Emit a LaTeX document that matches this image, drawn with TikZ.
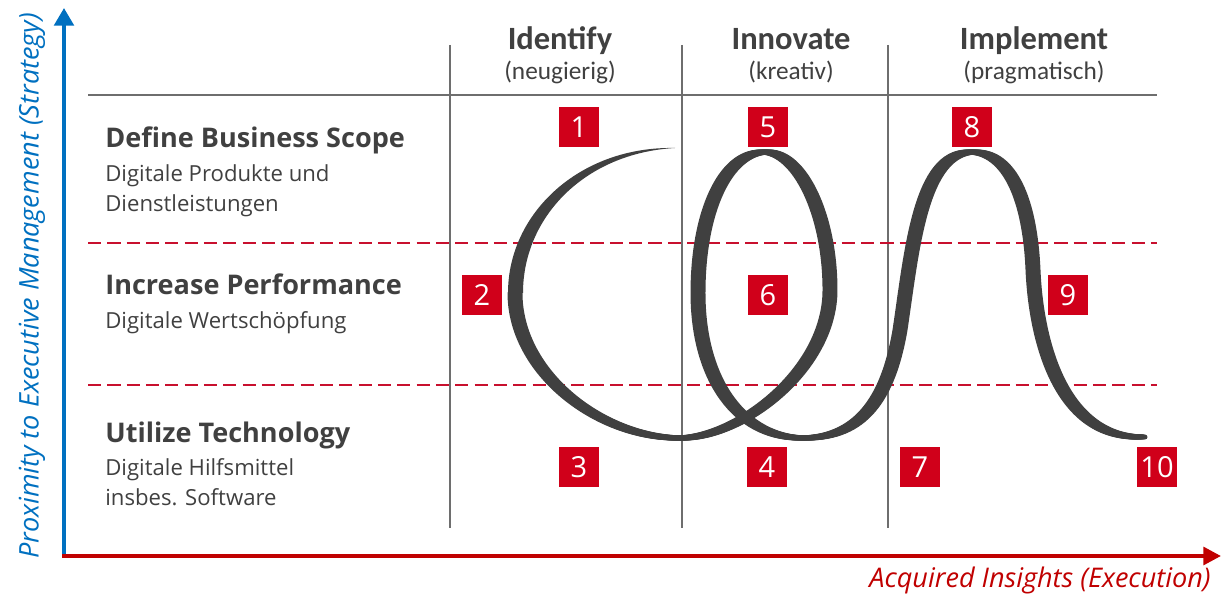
\documentclass[tikz,border=0pt]{standalone}
\usepackage{fontspec}
\setmainfont{Open Sans}
\newfontfamily\calfont{Carlito}
\usetikzlibrary{arrows.meta}
\definecolor{txt}{RGB}{64,64,64}
\definecolor{ink}{RGB}{64,64,64}
\definecolor{boxred}{RGB}{208,0,26}
\definecolor{axred}{RGB}{192,0,0}
\definecolor{axblue}{RGB}{0,112,192}
\definecolor{dashred}{RGB}{200,16,46}
\definecolor{gridgray}{RGB}{110,110,110}
\begin{document}
\begin{tikzpicture}[x=0.02cm,y=-0.02cm,
  numbox/.style={fill=boxred,text=white,minimum size=0.8cm,inner sep=0pt,font=\fontsize{16.5}{16}\selectfont},
  rowtitle/.style={anchor=base west,text=txt,font=\bfseries\fontsize{15.4}{17}\selectfont,inner sep=0pt},
  rowsub/.style={anchor=base west,text=txt,font=\fontsize{12.6}{14}\selectfont,inner sep=0pt},
  colhead/.style={anchor=base,text=txt,font=\calfont\bfseries\fontsize{18.5}{20}\selectfont,inner sep=0pt},
  colsub/.style={anchor=base,text=txt,font=\calfont\fontsize{14.4}{16}\selectfont,inner sep=0pt},
  gridline/.style={draw=gridgray,line width=0.8pt},
  dashline/.style={draw=dashred,line width=0.8pt,dash pattern=on 7.5pt off 3.5pt},
  axislabel/.style={font=\itshape\fontsize{15.4}{17}\selectfont,inner sep=0pt},
]
\useasboundingbox (0,0) rectangle (1227,601);

% grid
\coordinate (tl) at (88,95);   \coordinate (tr) at (1157,95);
\coordinate (d1l) at (88,243); \coordinate (d1r) at (1157,243);
\coordinate (d2l) at (88,385); \coordinate (d2r) at (1157,385);
\coordinate (v1t) at (450,45); \coordinate (v1b) at (450,528);
\coordinate (v2t) at (682,45); \coordinate (v2b) at (682,528);
\coordinate (v3t) at (888,45); \coordinate (v3b) at (888,528);
\draw[gridline] (tl) -- (tr);
\draw[gridline] (v1t) -- (v1b);
\draw[gridline] (v2t) -- (v2b);
\draw[gridline] (v3t) -- (v3b);
\draw[dashline] (d1l) -- (d1r);
\draw[dashline] (d2l) -- (d2r);

% axes
\coordinate (origin) at (64,556);
\coordinate (ytop) at (64,8);
\coordinate (xstart) at (62,556);
\coordinate (xend) at (1221,556);
\draw[axblue,line width=2.3pt,-{Triangle[length=10pt,width=11pt]}] (origin) -- (ytop);
\draw[axred,line width=2.3pt,-{Triangle[length=10pt,width=10pt]}] (xstart) -- (xend);
\node[axislabel,text=axblue,rotate=90] (ylab) at (32,286) {Proximity to Executive Management (Strategy)};
\node[axislabel,text=axred] (xlab) at (1040,580) {Acquired Insights (Execution)};

% column heads
\node[colhead] (h1) at (560,50) {Identify};
\node[colsub] (s1) at (560,80) {(neugierig)};
\node[colhead] (h2) at (791,50) {Innovate};
\node[colsub] (s2) at (791,80) {(kreativ)};
\node[colhead] (h3) at (1034,50) {Implement};
\node[colsub] (s3) at (1034,80) {(pragmatisch)};

% row labels
\node[rowtitle] (r1) at (105,148) {Define Business Scope};
\node[rowsub] (r1a) at (105,182) {Digitale Produkte und};
\node[rowsub] (r1b) at (105,212) {Dienstleistungen};
\node[rowtitle] (r2) at (105,295) {Increase Performance};
\node[rowsub] (r2a) at (105,328) {Digitale Wertschöpfung};
\node[rowtitle] (r3) at (105,442) {Utilize Technology};
\node[rowsub] (r3a) at (105,475) {Digitale Hilfsmittel};
\node[rowsub] (r3b) at (105,505) {insbes. Software};

% spiral: tapered start
\fill[ink] (675,148) .. controls (580,146) and (508,213) .. (508,293)
  -- (523,293) .. controls (523,217) and (585,153) .. (675,148) -- cycle;
% calligraphic body
\foreach \s in {-5,-4,...,5}{
\draw[ink,line width=2.83pt,line cap=round,line join=round,xshift=\s*0.02cm]
  (515,293) .. controls (515,373) and (600,438) .. (680,438)
  .. controls (740,438) and (830,370) .. (830,290)
  .. controls (830,215) and (800,152) .. (765,152)
  .. controls (725,152) and (698,212) .. (698,293)
  .. controls (698,380) and (740,438) .. (803,438)
  .. controls (860,438) and (888,400) .. (900,330)
  .. controls (912,250) and (920,152) .. (972,152)
  .. controls (1010,152) and (1030,200) .. (1033,270)
  .. controls (1036,340) and (1060,437) .. (1140,437);
}

% number boxes
\node[numbox] (n1) at (579,127) {1};
\node[numbox] (n2) at (482,295) {2};
\node[numbox] (n3) at (579,467) {3};
\node[numbox] (n4) at (767,467) {4};
\node[numbox] (n5) at (768,127) {5};
\node[numbox] (n6) at (768,295) {6};
\node[numbox] (n7) at (920,467) {7};
\node[numbox] (n8) at (972,127) {8};
\node[numbox] (n9) at (1068,295) {9};
\node[numbox] (n10) at (1157,467) {10};
\end{tikzpicture}
\end{document}
